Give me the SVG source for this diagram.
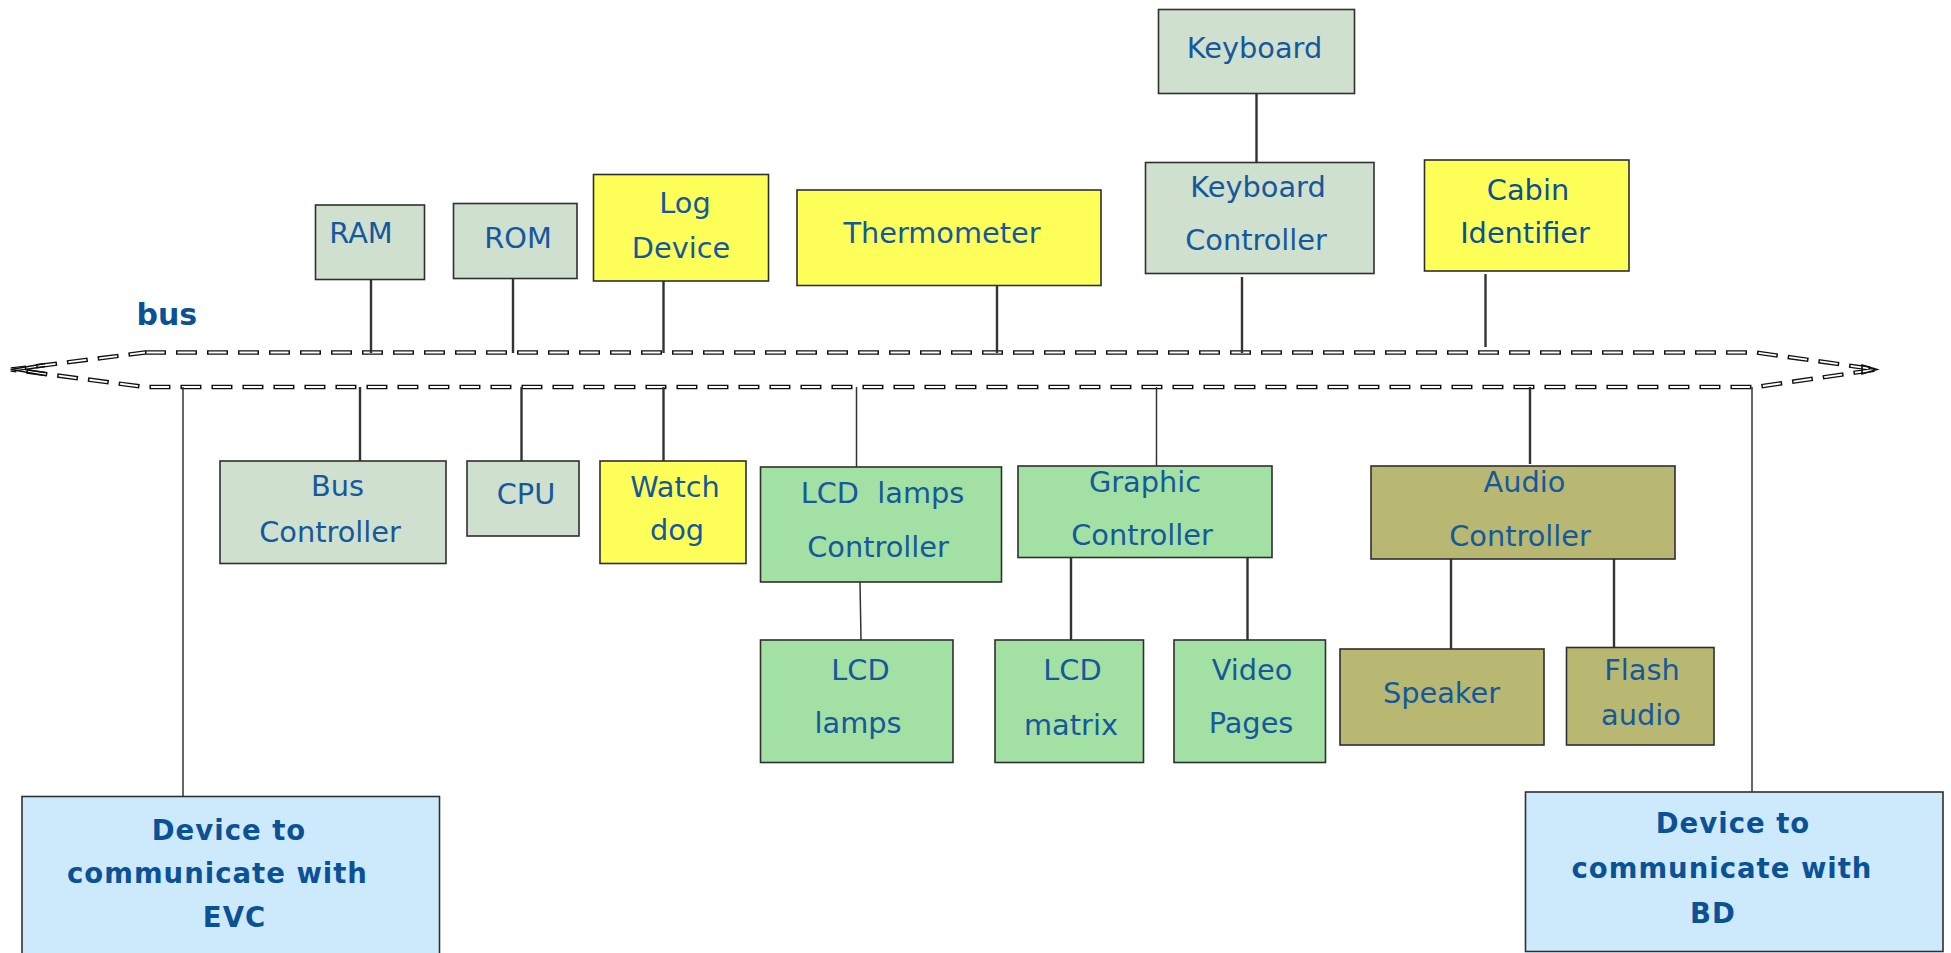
<svg xmlns="http://www.w3.org/2000/svg" width="1951" height="953" viewBox="0 0 1951 953">
<style>
.box{stroke:#2f2f2f;stroke-width:1.6}
.gg{fill:#cfe0ce}
.ye{fill:#ffff5a}
.gr{fill:#a3e0a3}
.ol{fill:#b8b872}
.lb{fill:#cdeafc}
.t{font-family:"DejaVu Sans",Verdana,sans-serif;font-size:28.8px;fill:#15589c;text-anchor:middle}
.tb{font-family:"DejaVu Sans",Verdana,sans-serif;font-size:27.5px;font-weight:bold;fill:#0b5196;text-anchor:middle;letter-spacing:1px}
.c{stroke:#333;stroke-width:2.4;fill:none}
.cf{stroke:#333;stroke-width:1.5;fill:none}
.tip{fill:none;stroke:#111;stroke-width:1.6;stroke-linejoin:miter}
</style>
<rect width="1951" height="953" fill="#ffffff"/>
<g id="bus">
<polygon points="145,352.5 1756,352.5 1877,369.5 1756,387 145,387 11,369.5" fill="none" stroke="#111" stroke-width="4.4" stroke-dasharray="21,10"/>
<polygon points="145,352.5 1756,352.5 1877,369.5 1756,387 145,387 11,369.5" fill="none" stroke="#fff" stroke-width="1.8" stroke-dasharray="18,13" stroke-dashoffset="-1.5"/>
<path class="tip" d="M45,363.5 L11,369.5 L45,375.5 M45,366.5 L25,369.5 L45,372.5"/>
<path class="tip" d="M1862,365 L1877,369.5 L1862,374 Z"/>
<text x="136.5" y="325" font-family="'DejaVu Sans',Verdana,sans-serif" font-size="30" font-weight="bold" fill="#0b5196">bus</text>
</g>
<g id="connectors">
<line class="c" x1="371" y1="279" x2="371" y2="353"/>
<line class="c" x1="513" y1="278" x2="513" y2="353"/>
<line class="c" x1="663.5" y1="280" x2="663.5" y2="353"/>
<line class="c" x1="997" y1="277" x2="997" y2="353"/>
<line class="c" x1="1242" y1="277" x2="1242" y2="353"/>
<line class="c" x1="1485.5" y1="274" x2="1485.5" y2="347"/>
<line class="c" x1="1256.5" y1="93" x2="1256.5" y2="163"/>
<line class="cf" x1="183" y1="387" x2="183" y2="796"/>
<line class="c" x1="360" y1="387" x2="360" y2="461"/>
<line class="c" x1="521.5" y1="387" x2="521.5" y2="461"/>
<line class="c" x1="663.5" y1="387" x2="663.5" y2="461"/>
<line class="cf" x1="856.5" y1="387" x2="856.5" y2="467"/>
<line class="cf" x1="1156.5" y1="387" x2="1156.5" y2="466"/>
<line class="c" x1="1530" y1="387" x2="1530" y2="464"/>
<line class="cf" x1="1752" y1="387" x2="1752" y2="792"/>
<line class="cf" x1="860" y1="582" x2="861" y2="640"/>
<line class="c" x1="1071" y1="557" x2="1071" y2="640"/>
<line class="c" x1="1247.5" y1="557" x2="1247.5" y2="640"/>
<line class="c" x1="1451" y1="559" x2="1451" y2="649"/>
<line class="c" x1="1614" y1="559" x2="1614" y2="647"/>
</g>
<g id="ram"><rect class="box gg" x="315.5" y="205" width="109" height="74.5"/><text class="t" x="361" y="243">RAM</text></g>
<g id="rom"><rect class="box gg" x="453.5" y="203.5" width="123.5" height="75"/><text class="t" x="518" y="248">ROM</text></g>
<g id="logdevice"><rect class="box ye" x="593.5" y="174.5" width="175" height="106.5"/><text class="t" x="685" y="213">Log</text><text class="t" x="681" y="258">Device</text></g>
<g id="thermometer"><rect class="box ye" x="797" y="190" width="304" height="95.5"/><text class="t" x="942" y="243">Thermometer</text></g>
<g id="keyboard"><rect class="box gg" x="1158.5" y="9.5" width="196" height="84"/><text class="t" x="1254.5" y="58">Keyboard</text></g>
<g id="keyboardcontroller"><rect class="box gg" x="1145.5" y="162.5" width="228.5" height="111"/><text class="t" x="1258" y="197">Keyboard</text><text class="t" x="1256" y="250">Controller</text></g>
<g id="cabinidentifier"><rect class="box ye" x="1424.5" y="160" width="204.5" height="111"/><text class="t" x="1528" y="199.5" style="fill:#0b4f96">Cabin</text><text class="t" x="1525" y="243" style="fill:#0b4f96">Identifier</text></g>
<g id="buscontroller"><rect class="box gg" x="220" y="461" width="226" height="102.5"/><text class="t" x="337.5" y="496">Bus</text><text class="t" x="330" y="541.5">Controller</text></g>
<g id="cpu"><rect class="box gg" x="467" y="461" width="112" height="75"/><text class="t" x="526" y="504">CPU</text></g>
<g id="watchdog"><rect class="box ye" x="600" y="461" width="146" height="102.5"/><text class="t" x="675" y="497">Watch</text><text class="t" x="677" y="540">dog</text></g>
<g id="lcdlampscontroller"><rect class="box gr" x="760.5" y="467" width="241" height="115"/><text class="t" x="882.5" y="503" xml:space="preserve">LCD  lamps</text><text class="t" x="878" y="557">Controller</text></g>
<g id="graphiccontroller"><rect class="box gr" x="1018" y="466" width="254" height="91.5"/><text class="t" x="1145" y="491.5">Graphic</text><text class="t" x="1142" y="545">Controller</text></g>
<g id="audiocontroller"><rect class="box ol" x="1371" y="466" width="304" height="93"/><text class="t" x="1524.5" y="491.5">Audio</text><text class="t" x="1520" y="546">Controller</text></g>
<g id="lcdlamps"><rect class="box gr" x="760.5" y="640" width="192.5" height="122.5"/><text class="t" x="860.5" y="680">LCD</text><text class="t" x="858" y="733">lamps</text></g>
<g id="lcdmatrix"><rect class="box gr" x="995" y="640" width="148.5" height="122.5"/><text class="t" x="1072.5" y="680">LCD</text><text class="t" x="1071" y="735">matrix</text></g>
<g id="videopages"><rect class="box gr" x="1174" y="640" width="151.5" height="122.5"/><text class="t" x="1252" y="680">Video</text><text class="t" x="1251" y="733">Pages</text></g>
<g id="speaker"><rect class="box ol" x="1340" y="649" width="204" height="96"/><text class="t" x="1441.5" y="703">Speaker</text></g>
<g id="flashaudio"><rect class="box ol" x="1566.5" y="647.5" width="147.5" height="97.5"/><text class="t" x="1642" y="680">Flash</text><text class="t" x="1641" y="725">audio</text></g>
<g id="evcdevice"><rect class="box lb" x="22" y="796.5" width="417.5" height="170"/><text class="tb" x="229" y="840">Device to</text><text class="tb" x="217.5" y="883">communicate with</text><text class="tb" x="234.5" y="927">EVC</text></g>
<g id="bddevice"><rect class="box lb" x="1525.5" y="792" width="417.5" height="159.5"/><text class="tb" x="1733" y="833">Device to</text><text class="tb" x="1722" y="878">communicate with</text><text class="tb" x="1713" y="923">BD</text></g>
</svg>
